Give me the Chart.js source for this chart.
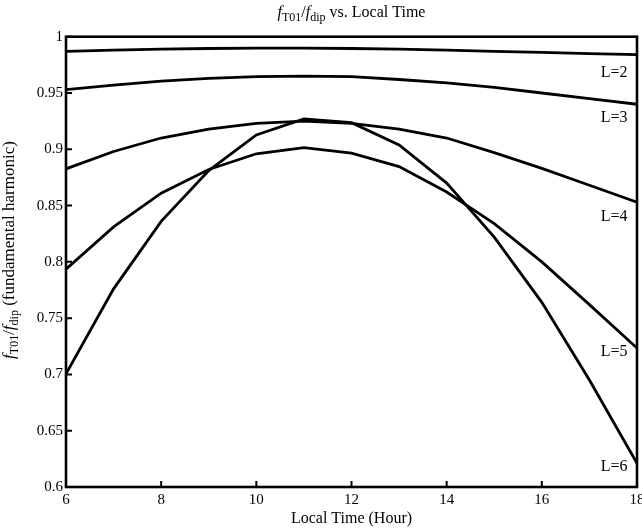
<!DOCTYPE html>
<html>
<head>
<meta charset="utf-8">
<script src="https://cdn.jsdelivr.net/npm/chart.js@4.4.1/dist/chart.umd.min.js"></script>
<style>
  body { margin: 0; background: #fff; }
  #wrap { width: 642px; height: 531px; }
</style>
</head>
<body>
<div id="wrap"><canvas id="ratioChart" width="642" height="531"></canvas></div>
<script>
// Local time (hour) on the x axis
const hours = [6, 7, 8, 9, 10, 11, 12, 13, 14, 15, 16, 17, 18];

// fT01/fdip for each L-shell
const ratioL2 = [0.987, 0.988, 0.989, 0.9895, 0.9898, 0.9898, 0.9895, 0.989, 0.988, 0.987, 0.986, 0.985, 0.984];
const ratioL3 = [0.953, 0.957, 0.9605, 0.963, 0.9645, 0.965, 0.9645, 0.962, 0.959, 0.955, 0.950, 0.945, 0.940];
const ratioL4 = [0.8826, 0.898, 0.910, 0.918, 0.923, 0.925, 0.923, 0.918, 0.910, 0.897, 0.883, 0.868, 0.853];
const ratioL5 = [0.7935, 0.831, 0.861, 0.882, 0.896, 0.9015, 0.8965, 0.8846, 0.862, 0.834, 0.800, 0.762, 0.7234];
const ratioL6 = [0.7006, 0.776, 0.836, 0.881, 0.9127, 0.9269, 0.9236, 0.9039, 0.870, 0.822, 0.764, 0.695, 0.621];

// curve labels, placed near the right edge
const curveNames = ['L=2', 'L=3', 'L=4', 'L=5', 'L=6'];
const curveLabelY = [0.968, 0.9276, 0.840, 0.7204, 0.6178];
const curveLabelX = 17.8;

const FONT = '"Liberation Serif", "Times New Roman", serif';

function toPoints(arr) {
    return arr.map((v, i) => ({ x: hours[i], y: v }));
}

// draws text made of pieces (italic / subscript), centred on x
function drawRich(ctx, parts, x, y, size) {
    const fontFor = p => `${p.it ? 'italic ' : ''}${p.sub ? Math.round(size * 0.72) : size}px ${FONT}`;
    let total = 0;
    parts.forEach(p => { ctx.font = fontFor(p); total += ctx.measureText(p.t).width; });
    let cx = x - total / 2;
    ctx.textAlign = 'left';
    parts.forEach(p => {
        ctx.font = fontFor(p);
        ctx.fillText(p.t, cx, y + (p.sub ? size * 0.3 : 0));
        cx += ctx.measureText(p.t).width;
    });
    return total;
}

const ratioParts = [
    { t: 'f', it: true }, { t: 'T01', sub: true }, { t: '/' },
    { t: 'f', it: true }, { t: 'dip', sub: true }
];

const decorPlugin = {
    id: 'decor',
    afterDatasetsDraw(chart) {
        const { ctx, chartArea: a, scales } = chart;
        ctx.save();
        ctx.strokeStyle = '#000';
        ctx.fillStyle = '#000';

        // box round the plot
        ctx.lineWidth = 2.6;
        ctx.strokeRect(a.left, a.top, a.right - a.left, a.bottom - a.top);

        // inward ticks on left and bottom
        ctx.lineWidth = 2;
        ctx.beginPath();
        scales.x.ticks.forEach(t => {
            const px = scales.x.getPixelForValue(t.value);
            ctx.moveTo(px, a.bottom);
            ctx.lineTo(px, a.bottom - 6);
        });
        scales.y.ticks.forEach(t => {
            const py = scales.y.getPixelForValue(t.value);
            ctx.moveTo(a.left, py);
            ctx.lineTo(a.left + 6, py);
        });
        ctx.stroke();

        // curve labels
        ctx.font = `16px ${FONT}`;
        ctx.textAlign = 'right';
        ctx.textBaseline = 'middle';
        curveNames.forEach((name, i) => {
            ctx.fillText(name, scales.x.getPixelForValue(curveLabelX), scales.y.getPixelForValue(curveLabelY[i]));
        });

        // title
        ctx.textBaseline = 'middle';
        drawRich(ctx, ratioParts.concat([{ t: ' vs. Local Time' }]), (a.left + a.right) / 2, 13, 16);

        // x axis title
        ctx.font = `16px ${FONT}`;
        ctx.textAlign = 'center';
        ctx.fillText('Local Time (Hour)', (a.left + a.right) / 2, 519);

        // y axis title (rotated)
        const yParts = ratioParts.concat([{ t: ' (fundamental harmonic)' }]);
        ctx.translate(10, 250);
        ctx.rotate(-Math.PI / 2);
        drawRich(ctx, yParts, 0, 0, 17);
        ctx.restore();
    }
};

const lineStyle = { borderColor: '#000', borderWidth: 2.8, pointRadius: 0, tension: 0, fill: false };

new Chart(document.getElementById('ratioChart'), {
    type: 'line',
    data: {
        datasets: [
            { label: curveNames[0], data: toPoints(ratioL2), ...lineStyle },
            { label: curveNames[1], data: toPoints(ratioL3), ...lineStyle },
            { label: curveNames[2], data: toPoints(ratioL4), ...lineStyle },
            { label: curveNames[3], data: toPoints(ratioL5), ...lineStyle },
            { label: curveNames[4], data: toPoints(ratioL6), ...lineStyle }
        ]
    },
    options: {
        responsive: false,
        animation: false,
        layout: { padding: { left: 0, right: 5, top: 36.7, bottom: 0 } },
        plugins: {
            legend: { display: false },
            tooltip: { enabled: false }
        },
        scales: {
            x: {
                type: 'linear',
                min: 6, max: 18,
                grid: { display: false, drawTicks: false },
                border: { display: false },
                ticks: { stepSize: 2, color: '#000', padding: 4, font: { family: FONT, size: 15 } },
                afterFit: s => { s.height = 44; s.paddingLeft = 0; s.paddingRight = 0; }
            },
            y: {
                min: 0.6, max: 1,
                grid: { display: false, drawTicks: false },
                border: { display: false },
                ticks: {
                    stepSize: 0.05, color: '#000', padding: 3, font: { family: FONT, size: 15 },
                    callback: v => String(+v.toFixed(2))
                },
                afterFit: s => { s.width = 66; s.paddingTop = 0; s.paddingBottom = 0; }
            }
        }
    },
    plugins: [decorPlugin]
});
</script>
</body>
</html>
